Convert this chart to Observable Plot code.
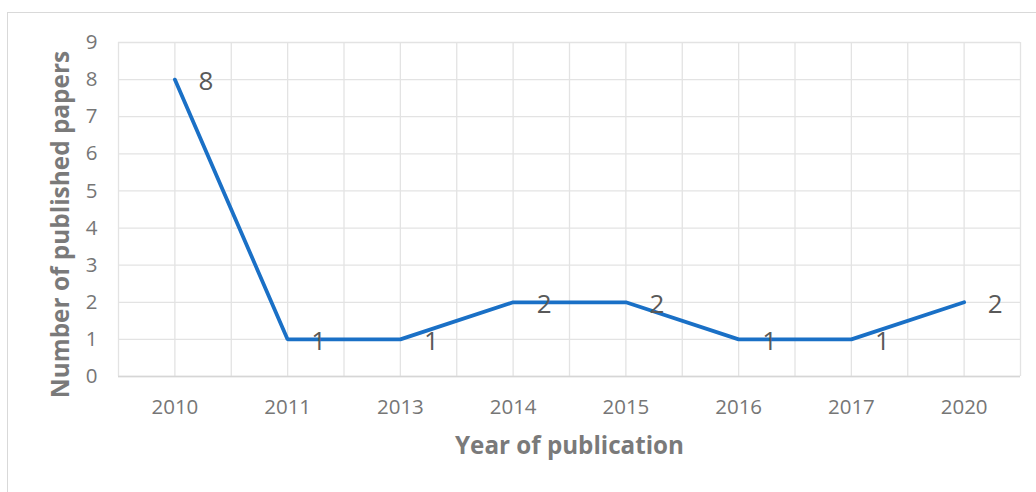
<!DOCTYPE html>
<html>
<head>
<meta charset="utf-8">
<script src="https://cdn.jsdelivr.net/npm/d3@7"></script>
<script src="https://cdn.jsdelivr.net/npm/@observablehq/plot@0.6"></script>
<style>
  html, body { margin: 0; padding: 0; background: #fff; }
  #wrap { position: relative; width: 1036px; height: 492px; overflow: hidden; }
  #border { position: absolute; left: 7px; top: 12px; width: 1100px; height: 600px; border: 1.5px solid #d9d9d9; box-sizing: border-box; }
  #chart { position: absolute; left: 0; top: 0; }
</style>
</head>
<body>
<div id="wrap"><div id="border"></div><div id="chart"></div></div>
<script>
const years = ["2010", "2011", "2013", "2014", "2015", "2016", "2017", "2020"];
const papers = [8, 1, 1, 2, 2, 1, 1, 2];
const yTicks = [0, 1, 2, 3, 4, 5, 6, 7, 8, 9];
const xTitle = "Year of publication";
const yTitle = "Number of published papers";

const data = years.map((y, i) => ({i, year: y, value: papers[i]}));
const idx = d3.range(years.length);
const gridX = d3.range(-0.5, years.length, 0.5);

const font = "'Open Sans', sans-serif";

const chart = Plot.plot({
  width: 1036,
  height: 492,
  marginLeft: 118,
  marginRight: 16,
  marginTop: 42,
  marginBottom: 116,
  style: {fontFamily: font, background: "transparent", overflow: "visible"},
  x: {type: "linear", domain: [-0.5, years.length - 0.5], label: null},
  y: {domain: [0, 9], label: null},
  marks: [
    Plot.ruleX(gridX, {x: d => d, stroke: "#e3e3e3", strokeWidth: 1.3}),
    Plot.ruleY(yTicks, {y: d => d, stroke: "#e3e3e3", strokeWidth: 1.3}),
    Plot.ruleY([0], {stroke: "#d6d6d6", strokeWidth: 1.5}),
    Plot.axisX(idx, {tickFormat: i => years[i], tickSize: 0, tickPadding: 23, fontSize: 20.5, fill: "#767676", label: null}),
    Plot.axisY(yTicks, {tickSize: 0, tickPadding: 21, fontSize: 20.5, fill: "#767676", label: null}),
    Plot.line(data, {x: "i", y: "value", stroke: "#1a70c6", strokeWidth: 3.8, strokeLinejoin: "miter"}),
    Plot.text(data, {x: "i", y: "value", text: d => String(d.value), dx: 31, dy: 2, fontSize: 26, fill: "#595959"}),
    Plot.text([xTitle], {frameAnchor: "bottom", dy: 77, fontSize: 24.2, fontWeight: "bold", fill: "#7a7a7a"}),
    Plot.text([yTitle], {frameAnchor: "left", textAnchor: "middle", rotate: -90, dx: -57, dy: 15, fontSize: 24.4, fontWeight: "bold", fill: "#7a7a7a"})
  ]
});
document.getElementById("chart").appendChild(chart);
</script>
</body>
</html>
